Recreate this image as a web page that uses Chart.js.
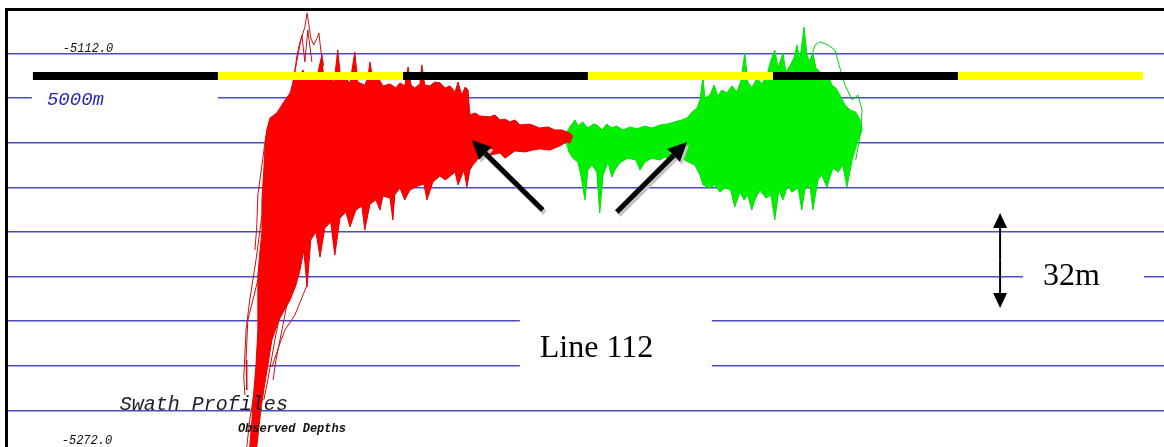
<!DOCTYPE html>
<html>
<head>
<meta charset="utf-8">
<title>Swath Profiles - Line 112</title>
<script src="https://cdn.jsdelivr.net/npm/chart.js@4/dist/chart.umd.min.js"></script>
<style>
  html, body { margin: 0; padding: 0; background: #fff; overflow: hidden; }
  #wrap { position: absolute; left: 0; top: 0; width: 1164px; height: 456px; }
  #frame { position: absolute; left: 5px; top: 8px; right: 0; bottom: 0;
           border-top: 3px solid #000; border-left: 3px solid #000; pointer-events: none; }
</style>
</head>
<body>
<div id="wrap">
  <canvas id="swath" width="1164" height="456"></canvas>
  <div id="frame"></div>
</div>
<script>
'use strict';

/**
 * data
 */

// depth window of the plot (m), one grid line every 16 m
const depthMin = -5272;
const depthMax = -5112;
const depthStep = 16;

// along-track distance window (km)
const distMin = -0.7;
const distMax = 30.57;

// scale bar: 5000 m blocks
const barEdgesKm = [0, 5, 10, 15, 20, 25, 30];
const barDepth = -5136.0;
const barColours = ['#000000', '#ffff00', '#000000', '#ffff00', '#000000', '#ffff00'];

// red swath, outline of the beam profiles [km, depth m]
const redOutline = [
  [5.86, -5269.1], [5.92, -5259.4], [5.95, -5252.3], [6.03, -5239.7], [6.08, -5227.2],
  [6.08, -5216.4], [6.08, -5207.8], [6.14, -5198.5], [6.19, -5192.0], [6.19, -5180.5],
  [6.24, -5169.8], [6.27, -5162.6], [6.32, -5155.4], [6.41, -5151.1], [6.59, -5149.3],
  [6.68, -5147.5], [6.76, -5145.7], [6.86, -5143.9], [6.95, -5142.1], [7.03, -5138.5],
  [7.11, -5134.6], [7.22, -5135.7], [7.30, -5133.9], [7.35, -5136.8], [7.49, -5135.3],
  [7.57, -5137.5], [7.70, -5135.0], [7.81, -5128.5], [7.86, -5137.5], [8.03, -5136.4],
  [8.14, -5138.2], [8.24, -5126.7], [8.32, -5137.5], [8.43, -5136.8], [8.57, -5138.5],
  [8.70, -5127.4], [8.78, -5138.2], [8.97, -5139.3], [9.05, -5136.8], [9.11, -5131.0],
  [9.19, -5137.5], [9.32, -5136.4], [9.46, -5139.6], [9.65, -5138.9], [9.81, -5140.3],
  [9.92, -5138.5], [10.05, -5139.6], [10.14, -5132.8], [10.22, -5139.3], [10.32, -5140.3],
  [10.46, -5138.9], [10.51, -5132.1], [10.59, -5139.3], [10.73, -5139.6], [10.86, -5138.2],
  [11.00, -5138.5], [11.14, -5140.3], [11.27, -5139.6], [11.41, -5141.8], [11.49, -5138.2],
  [11.59, -5142.9], [11.68, -5140.0], [11.76, -5141.1], [11.81, -5150.0], [11.95, -5149.3],
  [12.08, -5150.4], [12.35, -5150.7], [12.49, -5150.0], [12.62, -5151.8], [12.76, -5151.5],
  [12.89, -5152.5], [13.03, -5151.8], [13.16, -5153.6], [13.43, -5153.3], [13.70, -5154.7],
  [13.92, -5154.3], [14.11, -5155.4], [14.30, -5155.4], [14.51, -5156.5], [14.59, -5157.6],
  [14.51, -5160.1], [14.43, -5159.7], [14.24, -5161.1], [13.97, -5162.6], [13.70, -5162.2],
  [13.51, -5162.6], [13.30, -5163.3], [13.03, -5162.9], [12.76, -5165.5], [12.62, -5163.7],
  [12.35, -5164.4], [12.08, -5165.1], [11.89, -5168.0], [11.81, -5169.8], [11.73, -5175.9],
  [11.65, -5169.8], [11.49, -5175.1], [11.41, -5170.5], [11.22, -5172.6], [11.14, -5173.3],
  [11.00, -5171.9], [10.81, -5174.1], [10.65, -5180.5], [10.57, -5174.8], [10.41, -5175.5],
  [10.19, -5176.9], [10.05, -5180.5], [9.92, -5176.2], [9.78, -5178.7], [9.73, -5187.7],
  [9.65, -5179.8], [9.46, -5179.1], [9.38, -5184.1], [9.27, -5180.5], [9.11, -5182.0],
  [8.97, -5191.3], [8.89, -5182.7], [8.73, -5184.1], [8.57, -5190.2], [8.46, -5184.8],
  [8.30, -5187.0], [8.16, -5200.3], [8.05, -5188.4], [7.89, -5190.6], [7.76, -5201.0],
  [7.65, -5192.0], [7.51, -5194.9], [7.41, -5211.7], [7.32, -5198.5], [7.22, -5205.6],
  [7.11, -5211.0], [6.95, -5216.4], [6.65, -5223.6], [6.46, -5230.7], [6.35, -5239.7],
  [6.24, -5248.7], [6.16, -5255.9], [6.05, -5269.1]
];

// single red profiles standing out of the swath
const redStrands = [
  [[7.00, -5140.3], [7.08, -5133.9], [7.14, -5128.5], [7.22, -5123.8], [7.30, -5120.6],
   [7.35, -5118.5], [7.41, -5113.4], [7.46, -5117.7], [7.51, -5122.4], [7.59, -5124.9],
   [7.68, -5122.4], [7.73, -5120.6], [7.78, -5126.7], [7.86, -5132.4]],
  [[7.05, -5136.8], [7.19, -5126.7], [7.27, -5121.3], [7.35, -5131.0], [7.43, -5119.5], [7.54, -5131.0]],
  [[6.30, -5157.2], [6.19, -5168.0], [6.08, -5178.7], [6.05, -5190.2], [6.00, -5198.5]],
  [[6.19, -5185.9], [6.03, -5202.0], [5.86, -5216.4], [5.76, -5227.2], [5.70, -5244.0], [5.73, -5250.5]],
  [[6.08, -5209.2], [5.81, -5223.6], [5.76, -5237.9], [5.78, -5248.7]],
  [[7.41, -5211.0], [7.08, -5221.8], [6.81, -5227.2], [6.68, -5231.8], [6.46, -5240.4]],
  [[6.89, -5216.4], [6.73, -5227.2], [6.57, -5237.9], [6.49, -5245.1]],
  [[6.76, -5216.4], [6.54, -5230.7], [6.35, -5245.1], [6.24, -5252.3]],
  [[5.78, -5269.1], [5.86, -5259.4], [5.97, -5250.5]]
];

// green swath outline [km, depth m]
const greenOutline = [
  [14.38, -5159.0], [14.46, -5155.4], [14.57, -5153.3], [14.65, -5151.8], [14.73, -5154.0],
  [14.86, -5152.5], [15.00, -5154.7], [15.14, -5153.3], [15.24, -5153.6], [15.38, -5155.4],
  [15.51, -5153.3], [15.65, -5154.7], [15.78, -5154.0], [15.95, -5155.4], [16.14, -5154.3],
  [16.32, -5155.0], [16.54, -5154.0], [16.73, -5154.7], [16.95, -5153.6], [17.14, -5153.3],
  [17.35, -5152.5], [17.54, -5151.8], [17.68, -5151.1], [17.81, -5149.0], [17.95, -5147.5],
  [18.03, -5144.6], [18.11, -5136.4], [18.16, -5143.9], [18.30, -5142.9], [18.41, -5139.3],
  [18.51, -5143.2], [18.62, -5141.1], [18.76, -5142.1], [18.89, -5139.6], [19.03, -5141.8],
  [19.14, -5137.5], [19.24, -5127.8], [19.32, -5138.2], [19.43, -5140.3], [19.57, -5136.8],
  [19.70, -5138.9], [19.84, -5135.7], [19.95, -5130.3], [20.05, -5126.7], [20.14, -5133.2],
  [20.27, -5127.8], [20.35, -5134.6], [20.46, -5132.4], [20.57, -5129.6], [20.65, -5124.9],
  [20.73, -5130.3], [20.84, -5118.5], [20.92, -5128.5], [21.00, -5131.0], [21.08, -5127.8],
  [21.16, -5133.2], [21.27, -5134.6], [21.38, -5136.8], [21.49, -5135.3], [21.59, -5139.3],
  [21.70, -5140.3], [21.81, -5142.9], [21.95, -5146.4], [22.08, -5148.2], [22.24, -5149.0],
  [22.35, -5151.8], [22.41, -5155.4], [22.30, -5159.0], [22.22, -5162.6], [22.14, -5166.2],
  [22.00, -5175.9], [21.89, -5168.0], [21.76, -5170.5], [21.62, -5169.0], [21.46, -5175.9],
  [21.32, -5171.6], [21.22, -5173.3], [21.08, -5184.1], [21.00, -5175.1], [20.86, -5176.9],
  [20.78, -5184.1], [20.68, -5176.2], [20.51, -5177.7], [20.41, -5175.1], [20.27, -5180.5],
  [20.16, -5176.9], [20.05, -5187.7], [19.95, -5178.7], [19.81, -5179.8], [19.65, -5176.9],
  [19.51, -5180.5], [19.43, -5184.1], [19.32, -5178.7], [19.22, -5180.5], [19.11, -5177.7],
  [18.97, -5183.0], [18.86, -5176.9], [18.70, -5176.2], [18.57, -5177.7], [18.43, -5175.1],
  [18.30, -5176.2], [18.11, -5175.1], [18.03, -5171.6], [17.89, -5168.0], [17.76, -5167.2],
  [17.62, -5166.2], [17.49, -5165.5], [17.27, -5166.2], [17.08, -5165.1], [16.95, -5166.2],
  [16.73, -5165.5], [16.54, -5166.9], [16.41, -5169.8], [16.30, -5166.2], [16.08, -5165.5],
  [15.86, -5167.2], [15.73, -5169.8], [15.65, -5172.3], [15.54, -5166.9], [15.41, -5171.6],
  [15.32, -5185.2], [15.24, -5170.5], [15.11, -5168.0], [15.00, -5169.8], [14.92, -5180.5],
  [14.81, -5171.6], [14.73, -5166.9], [14.59, -5165.5], [14.46, -5162.6]
];

const greenStrands = [
  [[21.00, -5131.0], [21.14, -5124.9], [21.27, -5123.8], [21.49, -5124.9], [21.68, -5126.7],
   [21.81, -5133.2], [21.95, -5139.3], [22.14, -5144.6], [22.30, -5142.9], [22.41, -5148.2],
   [22.38, -5155.4], [22.24, -5166.2]]
];

// annotation layer (km, depth m)
const arrowsKm = [[13.78, -5184.1, 11.86, -5159.0], [15.78, -5184.8, 17.68, -5159.7]];
const spanArrow = [26.14, -5185.2, -5219.3];
const whiteBoxes = [
  [-0.03, 5.00, -5140.3, -5147.5],
  [13.16, 18.35, -5220.7, -5242.2],
  [26.76, 30.03, -5194.9, -5220.7]
];


/**
 * datasets
 */

const toPoints = function (arr) {
  return arr.map(function (p) { return { x: p[0], y: p[1] }; });
};

const datasets = [];

for (let i = 0; i < barColours.length; i++) {
  datasets.push({
    data: [{ x: barEdgesKm[i], y: barDepth }, { x: barEdgesKm[i + 1], y: barDepth }],
    borderColor: barColours[i],
    borderWidth: 8,
    borderCapStyle: 'butt',
    pointRadius: 0,
    order: 0
  });
}

redStrands.forEach(function (s) {
  datasets.push({ data: toPoints(s), borderColor: '#cc1010', borderWidth: 1, pointRadius: 0, order: 1 });
});

datasets.push({
  data: toPoints(redOutline),
  fill: 'shape',
  backgroundColor: '#ff0000',
  borderColor: '#e60000',
  borderWidth: 1,
  pointRadius: 0,
  order: 2
});

greenStrands.forEach(function (s) {
  datasets.push({ data: toPoints(s), borderColor: '#00d800', borderWidth: 1, pointRadius: 0, order: 3 });
});

datasets.push({
  data: toPoints(greenOutline),
  fill: 'shape',
  backgroundColor: '#00f000',
  borderColor: '#00e000',
  borderWidth: 1,
  pointRadius: 0,
  order: 4
});


/**
 * annotations: white label boxes, arrows and texts
 */

const drawArrow = function (ctx, x1, y1, x2, y2, lw, headLen, headW) {
  const ang = Math.atan2(y2 - y1, x2 - x1);
  const bx = x2 - Math.cos(ang) * headLen;
  const by = y2 - Math.sin(ang) * headLen;
  ctx.lineWidth = lw;
  ctx.beginPath();
  ctx.moveTo(x1, y1);
  ctx.lineTo(bx, by);
  ctx.stroke();
  ctx.beginPath();
  ctx.moveTo(x2, y2);
  ctx.lineTo(bx + Math.sin(ang) * headW / 2, by - Math.cos(ang) * headW / 2);
  ctx.lineTo(bx - Math.sin(ang) * headW / 2, by + Math.cos(ang) * headW / 2);
  ctx.closePath();
  ctx.fill();
};

const annotations = {
  id: 'annotations',
  afterDatasetsDraw: function (chart) {
    const ctx = chart.ctx;
    const xs = chart.scales.x;
    const ys = chart.scales.y;
    const px = function (v) { return xs.getPixelForValue(v); };
    const py = function (v) { return ys.getPixelForValue(v); };

    ctx.save();

    // boxes that cut the grid lines behind the labels
    ctx.fillStyle = '#ffffff';
    whiteBoxes.forEach(function (b) {
      ctx.fillRect(px(b[0]), py(b[2]), px(b[1]) - px(b[0]), py(b[3]) - py(b[2]));
    });

    // diagonal arrows with their grey drop shadow
    arrowsKm.forEach(function (a) {
      ctx.strokeStyle = '#c4c4c4';
      ctx.fillStyle = '#c4c4c4';
      drawArrow(ctx, px(a[0]) + 2, py(a[1]) + 3, px(a[2]) + 2, py(a[3]) + 3, 5, 19, 18);
      ctx.strokeStyle = '#000000';
      ctx.fillStyle = '#000000';
      drawArrow(ctx, px(a[0]), py(a[1]), px(a[2]), py(a[3]), 5, 19, 18);
    });

    // 32 m double arrow
    const sx = px(spanArrow[0]);
    const mid = (py(spanArrow[1]) + py(spanArrow[2])) / 2;
    ctx.strokeStyle = '#000000';
    ctx.fillStyle = '#000000';
    drawArrow(ctx, sx, mid, sx, py(spanArrow[1]), 2, 15, 14);
    drawArrow(ctx, sx, mid, sx, py(spanArrow[2]), 2, 15, 14);

    // texts
    ctx.textBaseline = 'alphabetic';
    ctx.textAlign = 'left';
    ctx.fillStyle = '#111111';
    ctx.font = 'italic 12px "Liberation Mono", "DejaVu Sans Mono", monospace';
    ctx.fillText('-5112.0', px(0.81), py(-5127.4));
    ctx.fillText('-5272.0', px(0.78), py(-5268.0));

    ctx.fillStyle = '#2626b8';
    ctx.font = 'italic 19px "Liberation Mono", "DejaVu Sans Mono", monospace';
    ctx.fillText('5000m', px(0.38), py(-5146.4));

    ctx.fillStyle = '#1c1c2c';
    ctx.font = 'italic 20px "Liberation Mono", "DejaVu Sans Mono", monospace';
    ctx.fillText('Swath Profiles', px(2.35), py(-5255.9));

    ctx.fillStyle = '#111111';
    ctx.font = 'italic bold 12px "Liberation Mono", "DejaVu Sans Mono", monospace';
    ctx.fillText('Observed Depths', px(5.54), py(-5263.7));

    ctx.fillStyle = '#000000';
    ctx.font = '32px "Liberation Serif", "DejaVu Serif", serif';
    ctx.fillText('Line 112', px(13.70), py(-5236.8));
    ctx.fillText('32m', px(27.30), py(-5211.0));

    ctx.restore();
  }
};


/**
 * chart
 */

const ctx = document.getElementById('swath').getContext('2d');

new Chart(ctx, {
  type: 'line',
  data: { datasets: datasets },
  plugins: [annotations],
  options: {
    responsive: false,
    animation: false,
    parsing: true,
    layout: { padding: { left: 7, top: 9, right: 0, bottom: 1 } },
    plugins: {
      legend: { display: false },
      tooltip: { enabled: false },
      title: { display: false }
    },
    elements: { line: { tension: 0 } },
    scales: {
      x: {
        type: 'linear',
        min: distMin,
        max: distMax,
        display: false
      },
      y: {
        type: 'linear',
        min: depthMin,
        max: depthMax,
        ticks: { display: false, stepSize: depthStep },
        border: { display: false },
        grid: {
          drawTicks: false,
          lineWidth: 1.6,
          color: function (c) {
            const v = c.tick ? c.tick.value : null;
            return (v === depthMin || v === depthMax) ? 'rgba(0,0,0,0)' : 'rgb(74,74,196)';
          }
        }
      }
    }
  }
});
</script>
</body>
</html>
